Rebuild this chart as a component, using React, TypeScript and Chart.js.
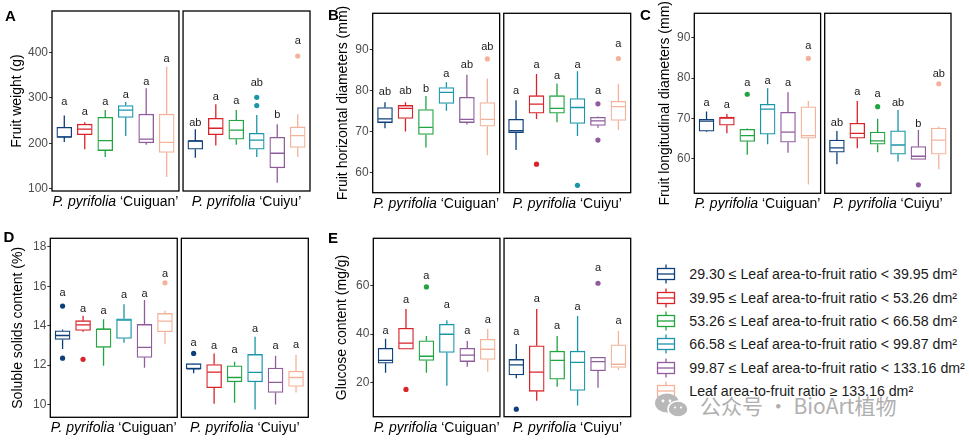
import { useEffect, useRef } from "react";
import { Chart, registerables } from "chart.js";

Chart.register(...registerables);

const FONT = "'Liberation Sans', Arial, Helvetica, sans-serif";

const groupColors = ["#0d3f7c", "#d92329", "#22a540", "#1b95aa", "#8f5c9c", "#f3b39b"];
const legendLabels = [
  "29.30 ≤ Leaf area-to-fruit ratio < 39.95 dm²",
  "39.95 ≤ Leaf area-to-fruit ratio < 53.26 dm²",
  "53.26 ≤ Leaf area-to-fruit ratio < 66.58 dm²",
  "66.58 ≤ Leaf area-to-fruit ratio < 99.87 dm²",
  "99.87 ≤ Leaf area-to-fruit ratio < 133.16 dm²",
  "Leaf area-to-fruit ratio ≥ 133.16 dm²",
];
const cultivars = ["Cuiguan", "Cuiyu"];

// box stats per group: [min, q1, median, q3, max]
// A: fruit weight (g)
const weightTicks = [100, 200, 300, 400];
const weightCuiguan = [
  [203, 213, 214, 235, 261],
  [187, 219, 231, 242, 246],
  [170, 184, 206, 257, 273],
  [216, 257, 273, 283, 291],
  [197, 201, 209, 264, 321],
  [126, 180, 202, 264, 369],
];
const weightCuiyu = [
  [168, 187, 205, 206, 231],
  [195, 219, 233, 255, 286],
  [197, 209, 229, 251, 273],
  [170, 187, 207, 222, 262],
  [113, 146, 178, 213, 242],
  [170, 191, 217, 236, 264],
];
const weightOutCuiguan = [[], [], [], [], [], []];
const weightOutCuiyu = [[], [], [], [301, 283], [], [392]];
const weightLetCuiguan = ["a", "a", "a", "a", "a", "a"];
const weightLetCuiyu = ["ab", "a", "a", "ab", "b", "a"];
const weightLetYCuiguan = [284, 262, 284, 300, 328, 378];
const weightLetYCuiyu = [239, 295, 286, 327, 255, 418];

// B: fruit horizontal diameters (mm)
const horizTicks = [60, 70, 80, 90];
const horizCuiguan = [
  [70.8, 72.2, 73.1, 75.9, 77.2],
  [70.0, 73.2, 75.7, 76.4, 77.2],
  [66.1, 69.3, 71.0, 75.4, 78.7],
  [75.1, 76.9, 79.6, 80.8, 82.1],
  [71.7, 72.2, 73.0, 78.4, 83.9],
  [64.2, 71.3, 73.0, 77.1, 83.0],
];
const horizCuiyu = [
  [65.5, 69.7, 70.2, 73.0, 77.7],
  [73.1, 74.5, 76.7, 78.8, 84.1],
  [72.3, 74.5, 75.7, 78.8, 81.8],
  [68.9, 72.0, 75.9, 78.1, 84.8],
  [70.9, 71.5, 72.6, 73.5, 73.7],
  [70.4, 72.7, 76.1, 77.4, 81.7],
];
const horizOutCuiguan = [[], [], [], [], [], [87.8]];
const horizOutCuiyu = [[], [62.0], [], [56.8], [76.8, 67.9], [87.9]];
const horizLetCuiguan = ["ab", "ab", "b", "a", "ab", "ab"];
const horizLetCuiyu = ["a", "a", "a", "a", "a", "a"];
const horizLetYCuiguan = [79.0, 79.2, 79.6, 83.4, 85.5, 90.0];
const horizLetYCuiyu = [79.2, 85.5, 82.9, 85.7, 79.2, 90.8];

// C: fruit longitudinal diameters (mm)
const longiTicks = [60, 70, 80, 90];
const longiCuiguan = [
  [66.6, 66.8, 69.3, 69.8, 71.7],
  [66.3, 68.3, 70.1, 70.3, 71.1],
  [61.0, 64.3, 65.7, 67.3, 67.5],
  [63.6, 66.1, 72.3, 73.5, 77.5],
  [61.5, 64.1, 66.6, 71.5, 76.5],
  [53.6, 65.1, 65.7, 72.9, 74.3],
];
const longiCuiyu = [
  [58.6, 61.6, 62.7, 64.6, 66.9],
  [62.6, 65.1, 66.3, 68.8, 74.3],
  [61.6, 63.6, 64.4, 66.6, 69.9],
  [59.3, 61.1, 63.4, 66.9, 72.1],
  [59.8, 59.8, 60.6, 63.0, 67.1],
  [57.4, 61.1, 64.6, 67.6, 68.0],
];
const longiOutCuiguan = [[], [], [76.0], [], [], [84.9]];
const longiOutCuiyu = [[], [], [72.9], [], [53.5], [78.6]];
const longiLetCuiguan = ["a", "a", "a", "a", "a", "a"];
const longiLetCuiyu = ["ab", "a", "a", "ab", "b", "ab"];
const longiLetYCuiguan = [73.1, 72.5, 78.1, 78.5, 78.1, 87.2];
const longiLetYCuiyu = [68.2, 75.8, 75.3, 73.2, 67.8, 80.4];

// D: soluble solids content (%)
const solidsTicks = [10, 12, 14, 16, 18];
const solidsCuiguan = [
  [12.81, 13.3, 13.5, 13.74, 13.81],
  [13.69, 13.76, 14.04, 14.25, 14.5],
  [11.96, 12.9, 13.82, 13.84, 14.33],
  [13.13, 13.35, 14.28, 14.35, 15.08],
  [11.86, 12.39, 12.9, 14.06, 15.3],
  [13.06, 13.69, 14.23, 14.62, 14.75],
];
const solidsCuiyu = [
  [11.58, 11.81, 11.81, 12.07, 12.08],
  [10.04, 10.85, 11.64, 12.03, 12.59],
  [10.09, 11.15, 11.37, 11.96, 12.17],
  [9.75, 11.15, 11.63, 12.54, 13.44],
  [10.0, 10.61, 11.12, 11.85, 12.47],
  [10.61, 10.92, 11.37, 11.69, 12.51],
];
const solidsOutCuiguan = [[14.99, 12.35], [12.29], [], [], [], [16.17]];
const solidsOutCuiyu = [[12.59], [], [], [], [], []];
const solidsLetCuiguan = ["a", "a", "a", "a", "a", "a"];
const solidsLetCuiyu = ["a", "a", "a", "a", "a", "a"];
const solidsLetYCuiguan = [15.5, 14.7, 14.58, 15.38, 15.46, 16.48];
const solidsLetYCuiyu = [12.96, 12.81, 12.59, 13.69, 12.81, 12.84];

// E: glucose content (mg/g)
const glucoseTicks = [20, 40, 60];
const glucoseCuiguan = [
  [24.0, 27.9, 29.1, 34.1, 38.0],
  [33.7, 33.7, 36.2, 42.4, 50.4],
  [24.0, 29.1, 30.8, 37.2, 39.2],
  [18.6, 32.4, 39.9, 44.0, 45.7],
  [26.5, 28.6, 31.3, 34.1, 37.1],
  [24.4, 29.5, 33.7, 37.8, 42.1],
];
const glucoseCuiyu = [
  [21.7, 23.1, 27.2, 29.5, 35.9],
  [12.4, 16.3, 24.2, 35.1, 50.4],
  [18.2, 21.3, 29.1, 32.9, 39.2],
  [10.4, 16.7, 28.3, 32.9, 47.5],
  [17.8, 24.8, 28.6, 30.4, 30.4],
  [25.1, 26.2, 27.5, 35.5, 41.3],
];
const glucoseOutCuiguan = [[], [17.1], [59.5], [], [], []];
const glucoseOutCuiyu = [[8.9], [], [], [], [61.0], []];
const glucoseLetCuiguan = ["a", "a", "a", "a", "a", "a"];
const glucoseLetCuiyu = ["a", "a", "a", "a", "a", "a"];
const glucoseLetYCuiguan = [40.0, 53.0, 62.8, 50.9, 40.0, 44.4];
const glucoseLetYCuiyu = [39.6, 53.4, 42.1, 49.9, 66.1, 44.0];

type Panel = {
  title: string;
  yMin: number;
  yMax: number;
  ticks: number[];
  stats: number[][][];
  outliers: number[][][];
  letters: string[][];
  letterY: number[][];
  box: { left: number; top: number; width: number; height: number };
  area: { left: number; right: number; top: number; bottom: number };
  titleX: number;
};

const panels: Panel[] = [
  {
    title: "Fruit weight (g)", yMin: 95, yMax: 491, ticks: weightTicks,
    stats: [weightCuiguan, weightCuiyu], outliers: [weightOutCuiguan, weightOutCuiyu],
    letters: [weightLetCuiguan, weightLetCuiyu], letterY: [weightLetYCuiguan, weightLetYCuiyu],
    box: { left: 0, top: 0, width: 318, height: 215 },
    area: { left: 52, right: 310, top: 11, bottom: 191 }, titleX: 17.5,
  },
  {
    title: "Fruit horizontal diameters (mm)", yMin: 55, yMax: 99, ticks: horizTicks,
    stats: [horizCuiguan, horizCuiyu], outliers: [horizOutCuiguan, horizOutCuiyu],
    letters: [horizLetCuiguan, horizLetCuiyu], letterY: [horizLetYCuiguan, horizLetYCuiyu],
    box: { left: 326, top: 0, width: 312, height: 215 },
    area: { left: 372.7, right: 630.7, top: 13.3, bottom: 192.7 }, titleX: 343,
  },
  {
    title: "Fruit longitudinal diameters (mm)", yMin: 51.4, yMax: 96.1, ticks: longiTicks,
    stats: [longiCuiguan, longiCuiyu], outliers: [longiOutCuiguan, longiOutCuiyu],
    letters: [longiLetCuiguan, longiLetCuiyu], letterY: [longiLetYCuiguan, longiLetYCuiyu],
    box: { left: 640, top: 0, width: 329, height: 215 },
    area: { left: 694.3, right: 951, top: 13.3, bottom: 193.3 }, titleX: 665.5,
  },
  {
    title: "Soluble solids content (%)", yMin: 9.35, yMax: 18.43, ticks: solidsTicks,
    stats: [solidsCuiguan, solidsCuiyu], outliers: [solidsOutCuiguan, solidsOutCuiyu],
    letters: [solidsLetCuiguan, solidsLetCuiyu], letterY: [solidsLetYCuiguan, solidsLetYCuiyu],
    box: { left: 0, top: 222, width: 318, height: 222 },
    area: { left: 50.3, right: 308.3, top: 238.3, bottom: 417.3 }, titleX: 18,
  },
  {
    title: "Glucose content (mg/g)", yMin: 5.8, yMax: 79.6, ticks: glucoseTicks,
    stats: [glucoseCuiguan, glucoseCuiyu], outliers: [glucoseOutCuiguan, glucoseOutCuiyu],
    letters: [glucoseLetCuiguan, glucoseLetCuiyu], letterY: [glucoseLetYCuiguan, glucoseLetYCuiyu],
    box: { left: 326, top: 222, width: 312, height: 222 },
    area: { left: 373.3, right: 630.7, top: 238.3, bottom: 416.7 }, titleX: 342.5,
  },
];

// slot layout along the x scale (two facets side by side)
const X_MIN = -0.6;
const X_MAX = 12.0;
const slotStart = [0, 6.4];
const frames = [
  [-0.6, 5.6],
  [5.8, 12.0],
];

function BoxPanel({ p }: { p: Panel }) {
  const canvasRef = useRef<HTMLCanvasElement>(null);

  useEffect(() => {
    if (!canvasRef.current) return;
    const xs: number[] = [];
    const stats: number[][] = [];
    const colors: string[] = [];
    const letters: string[] = [];
    const letterY: number[] = [];
    const outPts: { x: number; y: number }[] = [];
    const outColors: string[] = [];
    p.stats.forEach((groups, c) =>
      groups.forEach((s, g) => {
        const x = slotStart[c] + g;
        xs.push(x);
        stats.push(s);
        colors.push(groupColors[g]);
        letters.push(p.letters[c][g]);
        letterY.push(p.letterY[c][g]);
        p.outliers[c][g].forEach((v) => {
          outPts.push({ x, y: v });
          outColors.push(groupColors[g]);
        });
      })
    );

    const unit = (p.area.right - p.area.left) / (X_MAX - X_MIN);
    const axisLeft = p.titleX - 8.4;

    const decor = {
      id: "boxDecor",
      afterDatasetsDraw(chart: Chart) {
        const { ctx, chartArea } = chart;
        const x = chart.scales.x;
        const y = chart.scales.y;
        const bars = chart.getDatasetMeta(0).data as any[];
        ctx.save();
        ctx.lineWidth = 1.3;
        stats.forEach((s, i) => {
          const bar = bars[i];
          const cx = bar.x;
          const half = bar.width / 2;
          ctx.strokeStyle = colors[i];
          ctx.beginPath();
          ctx.moveTo(cx, y.getPixelForValue(s[3]));
          ctx.lineTo(cx, y.getPixelForValue(s[4]));
          ctx.moveTo(cx, y.getPixelForValue(s[1]));
          ctx.lineTo(cx, y.getPixelForValue(s[0]));
          const ym = y.getPixelForValue(s[2]);
          ctx.moveTo(cx - half + 0.6, ym);
          ctx.lineTo(cx + half - 0.6, ym);
          ctx.stroke();
          ctx.fillStyle = "#1a1a1a";
          ctx.font = `11px ${FONT}`;
          ctx.textAlign = "center";
          ctx.textBaseline = "alphabetic";
          ctx.fillText(letters[i], cx, y.getPixelForValue(letterY[i]));
        });
        ctx.strokeStyle = "#000";
        ctx.lineWidth = 1.3;
        frames.forEach(([a, b], c) => {
          const l = x.getPixelForValue(a);
          const r = x.getPixelForValue(b);
          ctx.strokeRect(l, chartArea.top, r - l, chartArea.bottom - chartArea.top);
          const cx = (l + r) / 2;
          ctx.font = `italic 14px ${FONT}`;
          const w1 = ctx.measureText("P. pyrifolia").width;
          ctx.font = `14px ${FONT}`;
          const t2 = ` \u2018${cultivars[c]}\u2019`;
          const w2 = ctx.measureText(t2).width;
          const start = cx - (w1 + w2) / 2;
          const base = chartArea.bottom + 15;
          ctx.fillStyle = "#000";
          ctx.textAlign = "left";
          ctx.font = `italic 14px ${FONT}`;
          ctx.fillText("P. pyrifolia", start, base);
          ctx.font = `14px ${FONT}`;
          ctx.fillText(t2, start + w1, base);
        });
        ctx.restore();
      },
    };

    const chart = new Chart(canvasRef.current, {
      type: "bar",
      data: {
        datasets: [
          {
            type: "bar",
            data: stats.map((s, i) => ({ x: xs[i], y: [s[1], s[3]] })) as any,
            backgroundColor: "#ffffff",
            borderColor: colors,
            borderWidth: 1.3,
            borderSkipped: false,
            barThickness: 0.73 * unit,
            order: 2,
          },
          {
            type: "scatter",
            data: outPts as any,
            backgroundColor: outColors,
            borderWidth: 0,
            pointRadius: 2.6,
            order: 1,
          },
        ] as any,
      },
      options: {
        animation: false,
        responsive: true,
        maintainAspectRatio: false,
        events: [],
        layout: {
          padding: {
            left: axisLeft - p.box.left,
            right: p.box.left + p.box.width - p.area.right,
            top: p.area.top - p.box.top,
            bottom: p.box.top + p.box.height - p.area.bottom,
          },
        },
        plugins: { legend: { display: false }, tooltip: { enabled: false } },
        scales: {
          x: { type: "linear", min: X_MIN, max: X_MAX, offset: false, display: false },
          y: {
            type: "linear",
            min: p.yMin,
            max: p.yMax,
            afterBuildTicks: (scale: any) => {
              scale.ticks = p.ticks.map((v) => ({ value: v }));
            },
            afterFit: (scale: any) => {
              scale.width = p.area.left - axisLeft;
            },
            ticks: { color: "#4d4d4d", font: { family: FONT, size: 12 }, padding: 1 },
            grid: { display: true, drawOnChartArea: false, drawTicks: true, tickLength: 3, color: "#333333" },
            border: { display: false },
            title: { display: true, text: p.title, color: "#000", font: { family: FONT, size: 14 }, padding: 0 },
          },
        },
      } as any,
      plugins: [decor],
    });
    return () => chart.destroy();
  }, [p]);

  return (
    <div style={{ position: "absolute", left: p.box.left, top: p.box.top, width: p.box.width, height: p.box.height }}>
      <canvas ref={canvasRef} />
    </div>
  );
}

const panelLetters = [
  { text: "A", left: 5, top: 7.5 },
  { text: "B", left: 328, top: 6.5 },
  { text: "C", left: 640, top: 6.5 },
  { text: "D", left: 3.5, top: 229 },
  { text: "E", left: 328, top: 229.5 },
];

function Legend() {
  return (
    <>
      {legendLabels.map((label, i) => {
        const cy = 274.3 + i * 23.3;
        return (
          <div key={label}>
            <svg width={24} height={24} style={{ position: "absolute", left: 654, top: cy - 12 }}>
              <g stroke={groupColors[i]} strokeWidth={1.3} fill="#fff">
                <line x1={12} y1={2.5} x2={12} y2={6.5} />
                <line x1={12} y1={17.5} x2={12} y2={21.5} />
                <rect x={3.5} y={6.5} width={17} height={11} />
                <line x1={3.5} y1={12} x2={20.5} y2={12} />
              </g>
            </svg>
            <div
              style={{
                position: "absolute",
                left: 689.3,
                top: cy - 9,
                height: 18,
                lineHeight: "18px",
                fontFamily: FONT,
                fontSize: 14.2,
                color: "#1a1a1a",
                whiteSpace: "nowrap",
              }}
            >
              {label}
            </div>
          </div>
        );
      })}
      <svg width={40} height={30} style={{ position: "absolute", left: 652, top: 391 }}>
        <ellipse cx={15} cy={12} rx={12} ry={9.5} fill="#b8b8b8" />
        <ellipse cx={26} cy={18} rx={10} ry={8} fill="#b8b8b8" stroke="#fff" strokeWidth={1.5} />
        <circle cx={11} cy={10} r={1.4} fill="#fff" />
        <circle cx={18} cy={10} r={1.4} fill="#fff" />
        <circle cx={23} cy={16.5} r={1.1} fill="#fff" />
        <circle cx={29} cy={16.5} r={1.1} fill="#fff" />
      </svg>
      <div
        style={{
          position: "absolute",
          left: 700,
          top: 392,
          fontFamily: "'Noto Sans CJK SC', sans-serif",
          fontSize: 21,
          lineHeight: "26px",
          color: "#b0b0b0",
          whiteSpace: "nowrap",
        }}
      >
        公众号 · BioArt植物
      </div>
    </>
  );
}

export default function App() {
  return (
    <div
      style={{
        position: "fixed",
        left: 0,
        top: 0,
        width: 969,
        height: 444,
        background: "#fff",
        overflow: "hidden",
      }}
    >
      {panels.map((p) => (
        <BoxPanel key={p.title} p={p} />
      ))}
      {panelLetters.map((l) => (
        <div
          key={l.text}
          style={{
            position: "absolute",
            left: l.left,
            top: l.top,
            fontFamily: FONT,
            fontWeight: "bold",
            fontSize: 15,
            lineHeight: "15px",
            color: "#000",
          }}
        >
          {l.text}
        </div>
      ))}
      <Legend />
    </div>
  );
}
